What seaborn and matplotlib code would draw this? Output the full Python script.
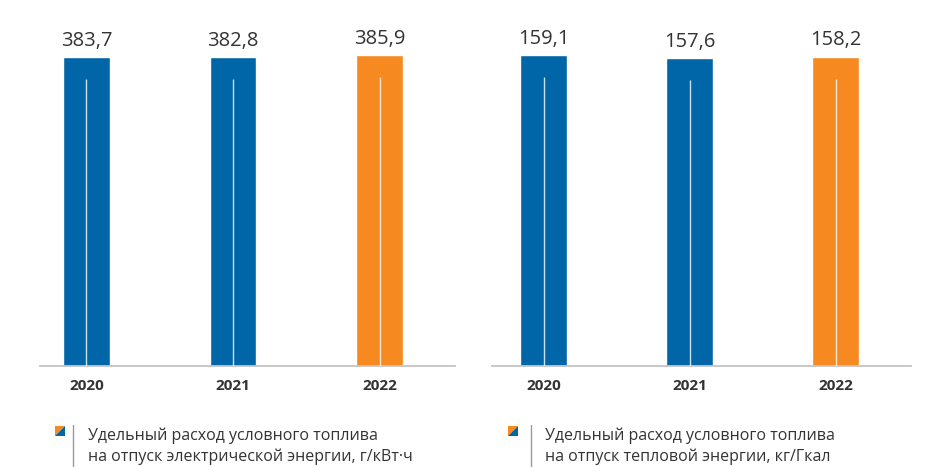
import matplotlib
matplotlib.use("Agg")
import matplotlib.pyplot as plt
import seaborn as sns
import pandas as pd
from matplotlib.patches import Polygon
from matplotlib.lines import Line2D

# Data
years = ["2020", "2021", "2022"]
electric_values = [383.7, 382.8, 385.9]
heat_values = [159.1, 157.6, 158.2]
value_labels_electric = ["383,7", "382,8", "385,9"]
value_labels_heat = ["159,1", "157,6", "158,2"]
legend_electric = "Удельный расход условного топлива\nна отпуск электрической энергии, г/кВт·ч"
legend_heat = "Удельный расход условного топлива\nна отпуск тепловой энергии, кг/Гкал"

BLUE = "#0066A7"
ORANGE = "#F68A20"
TEXT = "#333333"
bar_colors = [BLUE, BLUE, ORANGE]

sns.set_theme(style="white")
plt.rcParams["font.family"] = ["Open Sans", "DejaVu Sans"]

W, H = 931, 467
fig = plt.figure(figsize=(W / 100, H / 100), dpi=100)
fig.patch.set_facecolor("white")


def px_rect(x0, x1, y_top, y_bottom):
    return [x0 / W, 1 - y_bottom / H, (x1 - x0) / W, (y_bottom - y_top) / H]


def draw_panel(rect, values, labels, xlim):
    ax = fig.add_axes(rect)
    df = pd.DataFrame({"year": years, "value": values})
    sns.barplot(data=df, x="year", y="value", hue="year",
                palette=dict(zip(years, bar_colors)), legend=False,
                width=0.32, saturation=1, ax=ax)
    ymax = max(values) * 1.1125
    ax.set_ylim(0, ymax)
    ax.set_xlim(*xlim)
    # thin light stroke running up the middle of each bar
    gap = ymax * 22 / 346
    ax.vlines(range(len(values)), 0, [v - gap for v in values],
              colors="white", linewidth=1.0, alpha=0.8, zorder=3)
    for i, (v, lab) in enumerate(zip(values, labels)):
        ax.annotate(lab, (i, v), xytext=(0, 4.5), textcoords="offset points",
                    ha="center", va="bottom", fontsize=14.5, color=TEXT)
    for s in ["top", "right", "left"]:
        ax.spines[s].set_visible(False)
    ax.spines["bottom"].set_color("#c4c4c4")
    ax.spines["bottom"].set_linewidth(1.3)
    ax.set_yticks([])
    ax.set_xlabel("")
    ax.set_ylabel("")
    ax.tick_params(axis="x", length=0, pad=9.5)
    for t in ax.get_xticklabels():
        t.set_fontweight("bold")
        t.set_fontsize(11)
        t.set_color(TEXT)
    ax.set_facecolor("none")
    return ax


draw_panel(px_rect(40, 455, 20, 366), electric_values, value_labels_electric,
           (-0.317, 2.515))
draw_panel(px_rect(492, 911, 20, 366), heat_values, value_labels_heat,
           (-0.353, 2.517))


def legend_item(icon_x, line_x, text_x, text):
    s = 10
    y0, y1 = 426, 426 + s
    x0, x1 = icon_x, icon_x + s

    def p(x, y):
        return (x / W, 1 - y / H)

    fig.patches.append(Polygon([p(x0, y0), p(x1, y0), p(x0, y1)], closed=True,
                               facecolor=ORANGE, edgecolor="none",
                               transform=fig.transFigure, figure=fig))
    fig.patches.append(Polygon([p(x1, y0), p(x1, y1), p(x0, y1)], closed=True,
                               facecolor=BLUE, edgecolor="none",
                               transform=fig.transFigure, figure=fig))
    fig.lines.append(Line2D([line_x / W, line_x / W], [1 - 425 / H, 1 - 470 / H],
                            color="#9a9a9a", linewidth=1.0,
                            transform=fig.transFigure, figure=fig))
    fig.text(text_x / W, 1 - 428 / H, text, ha="left", va="top",
             fontsize=11.5, color=TEXT, linespacing=1.3)


legend_item(55, 73, 88, legend_electric)
legend_item(508, 531, 545, legend_heat)

fig.savefig("out.png", dpi=100, facecolor="white")
